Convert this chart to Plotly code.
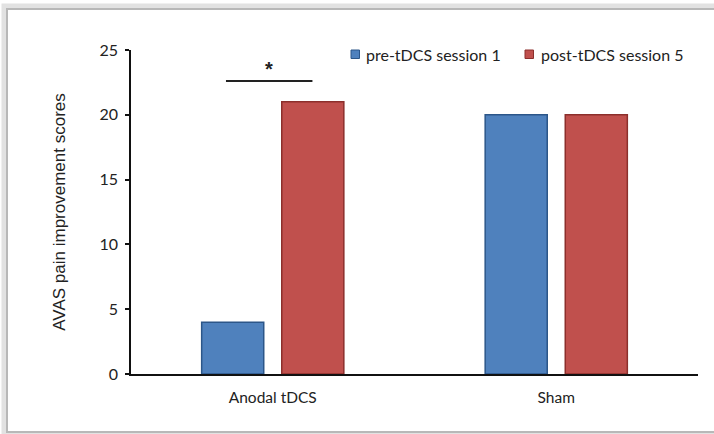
import plotly.graph_objects as go

categories = ["Anodal tDCS", "Sham"]
pre_values = [4, 20]
post_values = [21, 20]
series_names = ["pre-tDCS session 1", "post-tDCS session 5"]
y_ticks = [0, 5, 10, 15, 20, 25]
sig_label = "*"

W, H = 714, 434
L, R, T, B = 131, 16, 50, 60
pw, ph = W - L - R, H - T - B

def px(x):
    return (x - L) / pw

def py(y):
    return (H - B - y) / ph

fills = ["#4F81BD", "#C0504D"]
edges = ["#2C5689", "#8C2F2C"]

fig = go.Figure()
fig.add_trace(go.Bar(
    x=categories, y=pre_values, name=series_names[0],
    marker=dict(color=fills[0], line=dict(color=edges[0], width=1.5)),
))
fig.add_trace(go.Bar(
    x=categories, y=post_values, name=series_names[1],
    marker=dict(color=fills[1], line=dict(color=edges[1], width=1.5)),
))

tick_font = dict(family="Lato, Open Sans, sans-serif", size=16, color="#222")

fig.update_layout(
    width=W, height=H,
    margin=dict(l=L, r=R, t=T, b=B),
    paper_bgcolor="white", plot_bgcolor="white",
    barmode="group", bargap=0.435, bargroupgap=0.225,
    showlegend=False,
    xaxis=dict(showline=True, linecolor="#111", linewidth=2, ticks="", showgrid=False,
               tickfont=dict(family="Lato, Open Sans, sans-serif", size=15.5, color="#222"),
               zeroline=False, ticklabelstandoff=8),
    yaxis=dict(range=[0, 25], tickvals=y_ticks, showline=True, linecolor="#111", linewidth=1.5,
               ticks="outside", ticklen=4, tickcolor="#111", tickwidth=1.5, showgrid=False,
               zeroline=False, tickfont=tick_font, ticklabelstandoff=4,
               title=dict(text="AVAS pain improvement scores", standoff=30,
                          font=dict(family="Liberation Sans, Arial, sans-serif", size=17, color="#222"))),
)

# manual legend (symbol squares + labels)
leg_sq_x = [351, 525]
leg_txt_x = [364, 539]
for i in range(2):
    fig.add_shape(type="rect", xref="paper", yref="paper",
                  x0=px(leg_sq_x[i]), x1=px(leg_sq_x[i] + 8.5), y0=py(58.5), y1=py(50),
                  fillcolor=fills[i], line=dict(color=edges[i], width=1))
    fig.add_annotation(x=px(leg_txt_x[i]), y=py(54), xref="paper", yref="paper",
                       text=series_names[i], showarrow=False, xanchor="left", yanchor="middle",
                       font=dict(family="Lato, Open Sans, sans-serif", size=16, color="#222"))

# significance bar and asterisk
fig.add_shape(type="line", xref="x", yref="y", x0=-0.165, x1=0.14, y0=22.6, y1=22.6,
              line=dict(color="#222", width=2))
fig.add_annotation(x=-0.013, y=23.5, xref="x", yref="y", text="<b>" + sig_label + "</b>",
                   showarrow=False, yanchor="middle",
                   font=dict(family="Liberation Sans, Arial", size=20, color="#222"))

# frame (soft border)
fig.add_shape(type="rect", xref="paper", yref="paper", layer="below",
              x0=px(4), x1=px(740), y0=py(434), y1=py(6),
              line=dict(color="#e2e2e2", width=5))
fig.add_shape(type="rect", xref="paper", yref="paper", layer="below",
              x0=px(7), x1=px(740), y0=py(432), y1=py(9),
              line=dict(color="#b8b8b8", width=2))

fig.write_html("out.html", config={"displayModeBar": False},
               post_script="document.body.style.margin='0';")
